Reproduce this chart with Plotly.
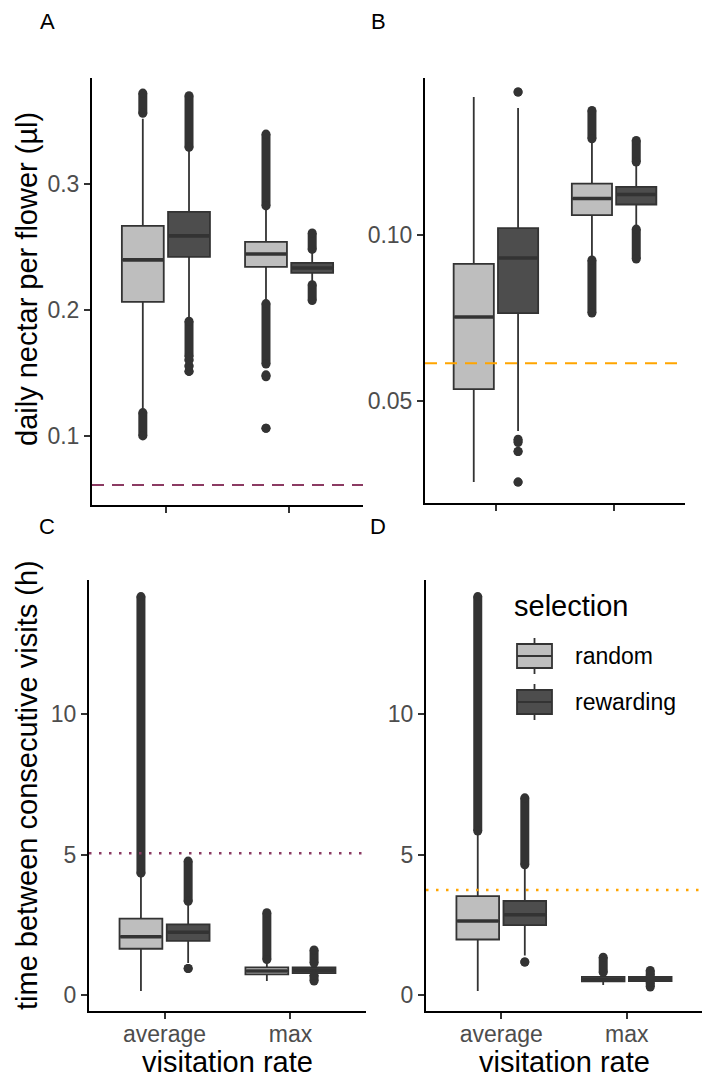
import plotly.graph_objects as go

W, H = 702, 1079

# ---------------- data ----------------
categories = ["average", "max"]          # x categories (visitation rate)
selections = ["random", "rewarding"]     # fill groups

# Box statistics: each list = [average, max]
# Panel A: daily nectar per flower (µl)
A_random_low = [0.1215, 0.2080]
A_random_q1 = [0.2063, 0.2341]
A_random_med = [0.2397, 0.2444]
A_random_q3 = [0.2667, 0.2540]
A_random_high = [0.3516, 0.2810]
A_rewarding_low = [0.1925, 0.2210]
A_rewarding_q1 = [0.2421, 0.2294]
A_rewarding_med = [0.2587, 0.2333]
A_rewarding_q3 = [0.2778, 0.2373]
A_rewarding_high = [0.3270, 0.2470]

# Panel B
B_random_low = [0.0256, 0.0935]
B_random_q1 = [0.0536, 0.1060]
B_random_med = [0.0753, 0.1110]
B_random_q3 = [0.0913, 0.1155]
B_random_high = [0.1416, 0.1283]
B_rewarding_low = [0.0410, 0.1025]
B_rewarding_q1 = [0.0765, 0.1092]
B_rewarding_med = [0.0931, 0.1122]
B_rewarding_q3 = [0.1021, 0.1145]
B_rewarding_high = [0.1383, 0.1215]

# Panel C: time between consecutive visits (h)
C_random_low = [0.16, 0.51]
C_random_q1 = [1.66, 0.75]
C_random_med = [2.09, 0.87]
C_random_q3 = [2.73, 1.00]
C_random_high = [4.27, 1.22]
C_rewarding_low = [1.15, 0.75]
C_rewarding_q1 = [1.94, 0.79]
C_rewarding_med = [2.25, 0.90]
C_rewarding_q3 = [2.53, 1.00]
C_rewarding_high = [3.32, 1.10]

# Panel D
D_random_low = [0.16, 0.37]
D_random_q1 = [1.99, 0.50]
D_random_med = [2.65, 0.58]
D_random_q3 = [3.53, 0.66]
D_random_high = [5.77, 0.78]
D_rewarding_low = [1.42, 0.47]
D_rewarding_q1 = [2.50, 0.51]
D_rewarding_med = [2.87, 0.59]
D_rewarding_q3 = [3.36, 0.66]
D_rewarding_high = [4.58, 0.70]

# Outliers: (from, to) ranges of densely packed points, per [average, max]
A_random_out = [[(0.1000, 0.1185), (0.3560, 0.3720)],
                [(0.1061, 0.1061), (0.1470, 0.1485), (0.1570, 0.2050), (0.2825, 0.3395)]]
A_rewarding_out = [[(0.1512, 0.1512), (0.1555, 0.1555), (0.1603, 0.1603), (0.1630, 0.1910), (0.3290, 0.3700)],
                   [(0.2075, 0.2200), (0.2480, 0.2610)]]
B_random_out = [[],
                [(0.0765, 0.0925), (0.1290, 0.1375)]]
B_rewarding_out = [[(0.0256, 0.0256), (0.0348, 0.0348), (0.0375, 0.0385), (0.1431, 0.1431)],
                   [(0.0928, 0.1018), (0.1220, 0.1285)]]
C_random_out = [[(4.35, 14.19)],
                [(1.28, 2.94)]]
C_rewarding_out = [[(0.96, 0.96), (3.35, 4.78)],
                   [(0.51, 0.72), (1.15, 1.62)]]
D_random_out = [[(5.85, 14.19)],
                [(0.82, 1.36)]]
D_rewarding_out = [[(1.19, 1.19), (4.65, 7.03)],
                   [(0.30, 0.46), (0.72, 0.89)]]

# reference lines
A_reference = 0.0611
B_reference = 0.0614
C_reference = 5.06
D_reference = 3.75

y_tick_values = {"A": [0.1, 0.2, 0.3], "B": [0.05, 0.10], "C": [0, 5, 10], "D": [0, 5, 10]}
y_tick_text = {"A": ["0.1", "0.2", "0.3"], "B": ["0.05", "0.10"], "C": ["0", "5", "10"], "D": ["0", "5", "10"]}
y_ranges = {"A": [0.0452, 0.384], "B": [0.0193, 0.1473], "C": [-0.554, 14.78], "D": [-0.554, 14.78]}

# ---------------- style ----------------
FONT = "Liberation Sans, Arial, sans-serif"
FILL = {"random": "#BEBEBE", "rewarding": "#4D4D4D"}
EDGE = "#333333"
DODGE = 0.1875
BOXW = 0.34
REF_STYLE = {
    "A": dict(color="#8B3A62", width=2, dash="12px,8px"),
    "B": dict(color="#FFA500", width=2, dash="12px,8px"),
    "C": dict(color="#8B3A62", width=2.5, dash="2.5px,7.5px"),
    "D": dict(color="#FFA500", width=2.5, dash="2.5px,7.5px"),
}

# panel pixel boxes: (left, right, top, bottom)
panels = {
    "A": (92, 363, 78, 505),
    "B": (425, 685, 78, 503),
    "C": (89, 366, 580, 1011),
    "D": (426, 702, 580, 1011),
}
axis_ids = {"A": "", "B": "2", "C": "3", "D": "4"}

data = {
    "A": {"random": (A_random_low, A_random_q1, A_random_med, A_random_q3, A_random_high, A_random_out),
          "rewarding": (A_rewarding_low, A_rewarding_q1, A_rewarding_med, A_rewarding_q3, A_rewarding_high, A_rewarding_out)},
    "B": {"random": (B_random_low, B_random_q1, B_random_med, B_random_q3, B_random_high, B_random_out),
          "rewarding": (B_rewarding_low, B_rewarding_q1, B_rewarding_med, B_rewarding_q3, B_rewarding_high, B_rewarding_out)},
    "C": {"random": (C_random_low, C_random_q1, C_random_med, C_random_q3, C_random_high, C_random_out),
          "rewarding": (C_rewarding_low, C_rewarding_q1, C_rewarding_med, C_rewarding_q3, C_rewarding_high, C_rewarding_out)},
    "D": {"random": (D_random_low, D_random_q1, D_random_med, D_random_q3, D_random_high, D_random_out),
          "rewarding": (D_rewarding_low, D_rewarding_q1, D_rewarding_med, D_rewarding_q3, D_rewarding_high, D_rewarding_out)},
}
references = {"A": A_reference, "B": B_reference, "C": C_reference, "D": D_reference}

fig = go.Figure()

for p in ["A", "B", "C", "D"]:
    xa = "x" + axis_ids[p]
    ya = "y" + axis_ids[p]
    for si, sel in enumerate(selections):
        low, q1, med, q3, high, outs = data[p][sel]
        offset = -DODGE if si == 0 else DODGE
        pos = [ci + offset for ci in range(len(categories))]
        fig.add_trace(go.Box(
            x=pos, q1=q1, median=med, q3=q3, lowerfence=low, upperfence=high,
            width=BOXW, fillcolor=FILL[sel], line=dict(color=EDGE, width=1.8),
            whiskerwidth=0, boxpoints=False, name=sel, showlegend=False,
            hoverinfo="skip", xaxis=xa, yaxis=ya,
        ))
        # thicker median (ggplot style)
        mx, my = [], []
        for x0, m in zip(pos, med):
            mx += [x0 - BOXW / 2 + 0.006, x0 + BOXW / 2 - 0.006, None]
            my += [m, m, None]
        fig.add_trace(go.Scatter(x=mx, y=my, mode="lines", line=dict(color=EDGE, width=3.6),
                                 showlegend=False, hoverinfo="skip", xaxis=xa, yaxis=ya))
        # outliers
        ox, oy = [], []
        for x0, bands in zip(pos, outs):
            for lo, hi in bands:
                ox += [x0, x0, None]
                oy += [lo, hi, None]
        if ox:
            fig.add_trace(go.Scatter(x=ox, y=oy, mode="lines+markers",
                                     line=dict(color=EDGE, width=9),
                                     marker=dict(color=EDGE, size=9, line=dict(width=0)),
                                     showlegend=False, hoverinfo="skip", xaxis=xa, yaxis=ya))
    # reference line
    fig.add_shape(type="line", xref=xa + " domain", yref=ya, x0=0, x1=1,
                  y0=references[p], y1=references[p], line=REF_STYLE[p], layer="above")

layout = dict(
    width=W, height=H, margin=dict(l=0, r=0, t=0, b=0),
    paper_bgcolor="white", plot_bgcolor="white",
    font=dict(family=FONT, color="black"),
    showlegend=False,
)
for p in ["A", "B", "C", "D"]:
    l, r, t, b = panels[p]
    sfx = axis_ids[p]
    show_x_labels = p in ("C", "D")
    layout["xaxis" + sfx] = dict(
        domain=[l / W, r / W], anchor="y" + sfx, range=[-0.6, 1.6],
        tickvals=list(range(len(categories))), ticktext=categories,
        showticklabels=show_x_labels, ticks="outside", ticklen=6, tickwidth=1.6, tickcolor=EDGE,
        ticklabelstandoff=-5,
        showline=True, linecolor="black", linewidth=2, showgrid=False, zeroline=False,
        tickfont=dict(family=FONT, size=23, color="#4D4D4D"), fixedrange=True,
    )
    layout["yaxis" + sfx] = dict(
        domain=[1 - b / H, 1 - t / H], anchor="x" + sfx, range=y_ranges[p],
        tickvals=y_tick_values[p], ticktext=y_tick_text[p],
        ticks="outside", ticklen=6, tickwidth=1.6, tickcolor=EDGE,
        showline=True, linecolor="black", linewidth=2, showgrid=False, zeroline=False,
        tickfont=dict(family=FONT, size=23, color="#4D4D4D"), fixedrange=True,
    )
fig.update_layout(**layout)


def ann(text, x, y, size, angle=0, xanchor="center", color="black"):
    fig.add_annotation(text=text, x=x / W, y=1 - y / H, xref="paper", yref="paper",
                       showarrow=False, textangle=angle, xanchor=xanchor, yanchor="middle",
                       font=dict(family=FONT, size=size, color=color))


# panel labels
ann("A", 47, 22, 22)
ann("B", 378, 22, 22)
ann("C", 47, 526, 22)
ann("D", 378, 526, 22)
# axis titles
ann("daily nectar per flower (µl)", 27, 279, 29, angle=-90)
ann("time between consecutive visits (h)", 27, 785, 29, angle=-90)
ann("visitation rate", 227, 1062, 29)
ann("visitation rate", 564, 1062, 29)

# legend (inside panel D)
ann("selection", 512, 606, 29, xanchor="left")
legend_rows = [("random", 656), ("rewarding", 702)]
for sel, cy in legend_rows:
    x0, x1 = 517, 552
    xm = (x0 + x1) / 2
    fig.add_shape(type="line", xref="paper", yref="paper", x0=xm / W, x1=xm / W,
                  y0=1 - (cy - 18) / H, y1=1 - (cy + 18) / H, line=dict(color=EDGE, width=1.8))
    fig.add_shape(type="rect", xref="paper", yref="paper", x0=x0 / W, x1=x1 / W,
                  y0=1 - (cy - 12) / H, y1=1 - (cy + 12) / H,
                  fillcolor=FILL[sel], line=dict(color=EDGE, width=1.8))
    fig.add_shape(type="line", xref="paper", yref="paper", x0=x0 / W, x1=x1 / W,
                  y0=1 - cy / H, y1=1 - cy / H, line=dict(color=EDGE, width=1.8))
    ann(sel, 573, cy, 23, xanchor="left")

fig.write_html("out.html", config={"displayModeBar": False},
               post_script="document.body.style.margin='0px';document.body.style.overflow='hidden';")
